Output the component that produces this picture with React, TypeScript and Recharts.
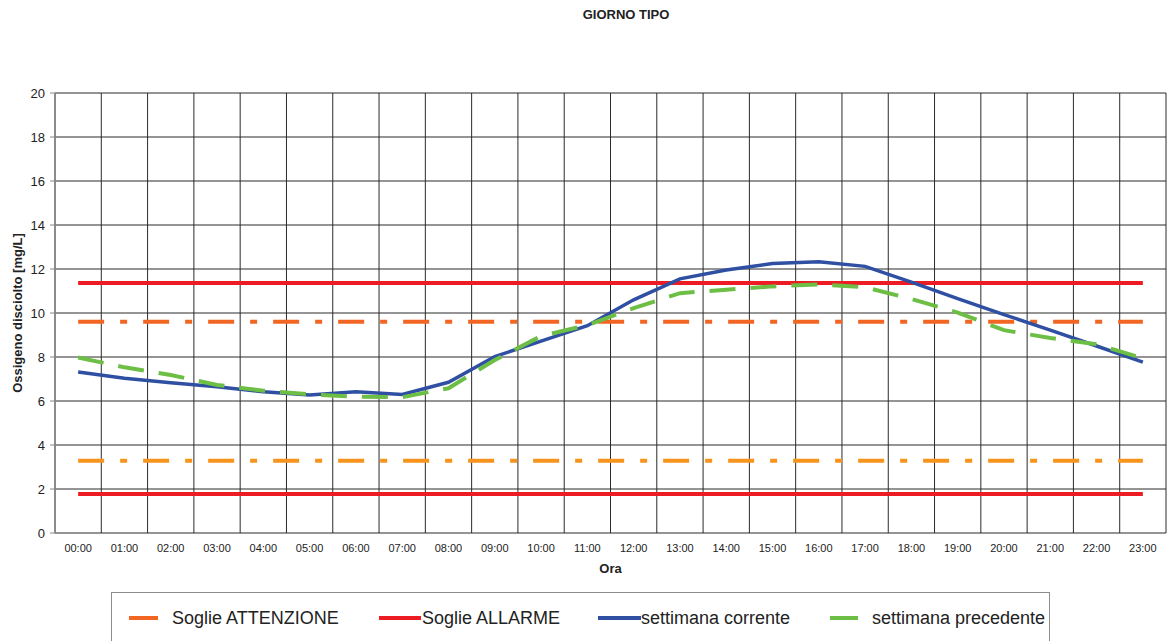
import React from 'react';
import { LineChart, Line, XAxis, YAxis, CartesianGrid, Legend, Label } from 'recharts';

const FONT = '"Liberation Sans", Arial, Helvetica, sans-serif';

const hours = [
  '00:00', '01:00', '02:00', '03:00', '04:00', '05:00', '06:00', '07:00',
  '08:00', '09:00', '10:00', '11:00', '12:00', '13:00', '14:00', '15:00',
  '16:00', '17:00', '18:00', '19:00', '20:00', '21:00', '22:00', '23:00',
];

const settimanaCorrente = [
  7.32, 7.03, 6.83, 6.65, 6.42, 6.27, 6.42, 6.3, 6.85, 8.02, 8.72, 9.42,
  10.6, 11.55, 11.95, 12.25, 12.33, 12.12, 11.4, 10.65, 9.93, 9.22, 8.5, 7.77,
];

const settimanaPrecedente = [
  7.98, 7.53, 7.18, 6.73, 6.47, 6.3, 6.2, 6.17, 6.58, 7.86, 8.95, 9.45,
  10.22, 10.9, 11.06, 11.21, 11.3, 11.17, 10.64, 10.02, 9.22, 8.86, 8.58, 7.94,
];

const sogliaAllarmeAlta = 11.36;
const sogliaAllarmeBassa = 1.77;
const sogliaAttenzioneAlta = 9.6;
const sogliaAttenzioneBassa = 3.28;

const yTicks = [0, 2, 4, 6, 8, 10, 12, 14, 16, 18, 20];

const legendItems = [
  { label: 'Soglie ATTENZIONE', color: '#F26522', left: 17, sampleW: 29, gap: 14 },
  { label: 'Soglie ALLARME', color: '#ED1C24', left: 267, sampleW: 42, gap: 1 },
  { label: 'settimana corrente', color: '#2F4FA2', left: 486, sampleW: 43, gap: 0 },
  { label: 'settimana precedente', color: '#6DBE45', left: 718, sampleW: 28, gap: 14 },
];

const data = hours.map((h, i) => ({
  idx: i,
  hour: h,
  corrente: settimanaCorrente[i],
  precedente: settimanaPrecedente[i],
  allarmeAlta: sogliaAllarmeAlta,
  allarmeBassa: sogliaAllarmeBassa,
  attenzioneAlta: sogliaAttenzioneAlta,
  attenzioneBassa: sogliaAttenzioneBassa,
}));

const hourTicks = hours.map((_, i) => i);
const boundaryTicks = [...hours.map((_, i) => i - 0.5), hours.length - 0.5];
const xDomain: [number, number] = [-0.5, hours.length - 0.5];

const renderLegend = () => (
  <div
    style={{
      position: 'relative',
      width: 939,
      height: 60,
      border: '1.5px solid #8c8c8c',
      boxSizing: 'border-box',
      background: '#fff',
      fontFamily: FONT,
      fontSize: 18,
      color: '#222',
    }}
  >
    {legendItems.map((item) => (
      <div
        key={item.label}
        style={{
          position: 'absolute',
          left: item.left,
          top: 14,
          height: 22,
          display: 'flex',
          alignItems: 'center',
          whiteSpace: 'nowrap',
        }}
      >
        <svg width={item.sampleW} height={6} style={{ display: 'block' }}>
          <line x1={0} y1={3} x2={item.sampleW} y2={3} stroke={item.color} strokeWidth={4} />
        </svg>
        <span style={{ marginLeft: item.gap }}>{item.label}</span>
      </div>
    ))}
  </div>
);

export default function App() {
  return (
    <div style={{ position: 'absolute', left: 0, top: 0, width: 1168, height: 641, background: '#fff', overflow: 'hidden' }}>
      <div
        style={{
          position: 'absolute',
          left: 526,
          top: 7,
          width: 200,
          textAlign: 'center',
          fontFamily: FONT,
          fontWeight: 'bold',
          fontSize: 13,
          color: '#222',
          zIndex: 2,
        }}
      >
        GIORNO TIPO
      </div>
      <LineChart
        width={1168}
        height={641}
        data={data}
        margin={{ top: 93, right: 2, left: 0, bottom: 68 }}
      >
        <XAxis
          xAxisId={0}
          type="number"
          dataKey="idx"
          domain={xDomain}
          ticks={boundaryTicks}
          interval={0}
          tickFormatter={() => ''}
          tickSize={4}
          tickMargin={0}
          height={0}
          allowDataOverflow
          axisLine={{ stroke: '#888', strokeWidth: 1.5 }}
          tickLine={{ stroke: '#888' }}
        />
        <XAxis
          xAxisId="main"
          type="number"
          dataKey="idx"
          domain={xDomain}
          ticks={hourTicks}
          interval={0}
          tickFormatter={(v: number) => hours[v]}
          axisLine={false}
          tickLine={false}
          tickSize={6}
          tickMargin={5}
          height={40}
          allowDataOverflow
          tick={{ fontSize: 11, fill: '#222', fontFamily: FONT }}
        >
          <Label
            value="Ora"
            position="insideBottom"
            offset={0}
            style={{ fontFamily: FONT, fontSize: 13, fontWeight: 'bold', fill: '#222' }}
          />
        </XAxis>
        <YAxis
          domain={[0, 20]}
          ticks={yTicks}
          interval={0}
          width={55}
          tickSize={5}
          tickMargin={5}
          axisLine={{ stroke: '#888', strokeWidth: 1.5 }}
          tickLine={{ stroke: '#888' }}
          tick={{ fontSize: 13, fill: '#222', fontFamily: FONT }}
        >
          <Label
            value="Ossigeno disciolto [mg/L]"
            angle={-90}
            position="insideLeft"
            offset={17.5}
            style={{ fontFamily: FONT, fontSize: 13, fontWeight: 'bold', fill: '#222', textAnchor: 'middle' }}
          />
        </YAxis>
        <CartesianGrid stroke="#2a2a2a" strokeWidth={1} />
        <Legend
          layout="horizontal"
          verticalAlign="middle"
          align="center"
          content={renderLegend}
          wrapperStyle={{ left: 111, top: 592, width: 939, height: 60 }}
        />
        <Line xAxisId="main" dataKey="attenzioneAlta" name="Soglie ATTENZIONE" stroke="#F26522" strokeWidth={4} strokeDasharray="26 16 7 16" dot={false} activeDot={false} isAnimationActive={false} />
        <Line xAxisId="main" dataKey="attenzioneBassa" name="Soglie ATTENZIONE bassa" stroke="#F7941D" strokeWidth={4} strokeDasharray="26 16 7 16" dot={false} activeDot={false} isAnimationActive={false} legendType="none" />
        <Line xAxisId="main" dataKey="allarmeAlta" name="Soglie ALLARME" stroke="#ED1C24" strokeWidth={4} dot={false} activeDot={false} isAnimationActive={false} />
        <Line xAxisId="main" dataKey="allarmeBassa" name="Soglie ALLARME bassa" stroke="#ED1C24" strokeWidth={4} dot={false} activeDot={false} isAnimationActive={false} legendType="none" />
        <Line xAxisId="main" dataKey="corrente" name="settimana corrente" stroke="#2F4FA2" strokeWidth={3.5} dot={false} activeDot={false} isAnimationActive={false} />
        <Line xAxisId="main" dataKey="precedente" name="settimana precedente" stroke="#6DBE45" strokeWidth={4} strokeDasharray="26 15" dot={false} activeDot={false} isAnimationActive={false} />
      </LineChart>
    </div>
  );
}
